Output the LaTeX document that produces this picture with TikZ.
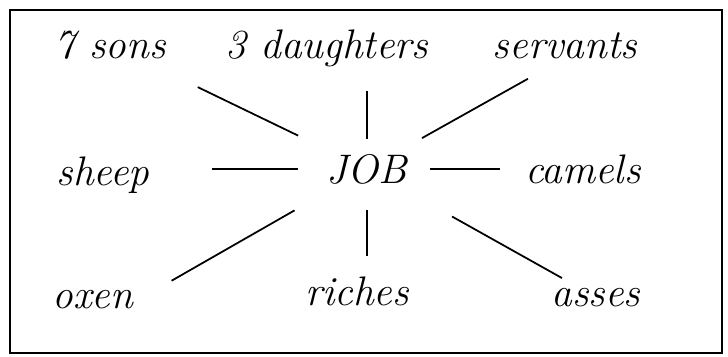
\documentclass[tikz,border=0pt]{standalone}
\usepackage{fontspec}
\tikzset{
  word/.style={anchor=base, font=\fontsize{23.5}{27}\selectfont\itshape\addfontfeatures{LetterSpace=5}},
  spoke/.style={line width=1pt}
}
\begin{document}
\begin{tikzpicture}[x=1cm,y=1cm]
\useasboundingbox (0,0) rectangle (14.56,7.12);
\draw[line width=1.4pt] (0.2,0.06) rectangle (14.44,6.92);
\node[word] (sons) at (2.20,5.96) {7 sons};
\node[word] (daughters) at (6.54,5.96) {3 daughters};
\node[word] (servants) at (11.30,5.96) {servants};
\node[word] (sheep) at (2.06,3.42) {sheep};
\node[word] (job) at (7.34,3.46) {JOB};
\node[word] (camels) at (11.66,3.46) {camels};
\node[word] (oxen) at (1.86,0.96) {oxen};
\node[word] (riches) at (7.14,1.02) {riches};
\node[word] (asses) at (11.92,1.00) {asses};
\draw[spoke, shorten <=1.95cm, shorten >=1.53cm] (sons.center) -- (job.center);
\draw[spoke, shorten <=0.60cm, shorten >=0.86cm] (job.center) -- (job.center |- daughters.center);
\draw[spoke, shorten <=0.85cm, shorten >=1.26cm] (servants.base) -- (job.center);
\draw[spoke, shorten <=2.18cm, shorten >=1.38cm] (job.center -| sheep.center) -- (job.center);
\draw[spoke, shorten <=1.26cm, shorten >=1.66cm] (job.center) -- (job.center -| camels.center);
\draw[spoke, shorten <=0.74cm, shorten >=1.67cm] (oxen.east) -- (job.center);
\draw[spoke, shorten <=0.82cm, shorten >=0.70cm] (job.center) -- (job.center |- riches.center);
\draw[spoke, shorten <=1.95cm, shorten >=0.78cm] (job.center) -- (asses.center);
\end{tikzpicture}
\end{document}
